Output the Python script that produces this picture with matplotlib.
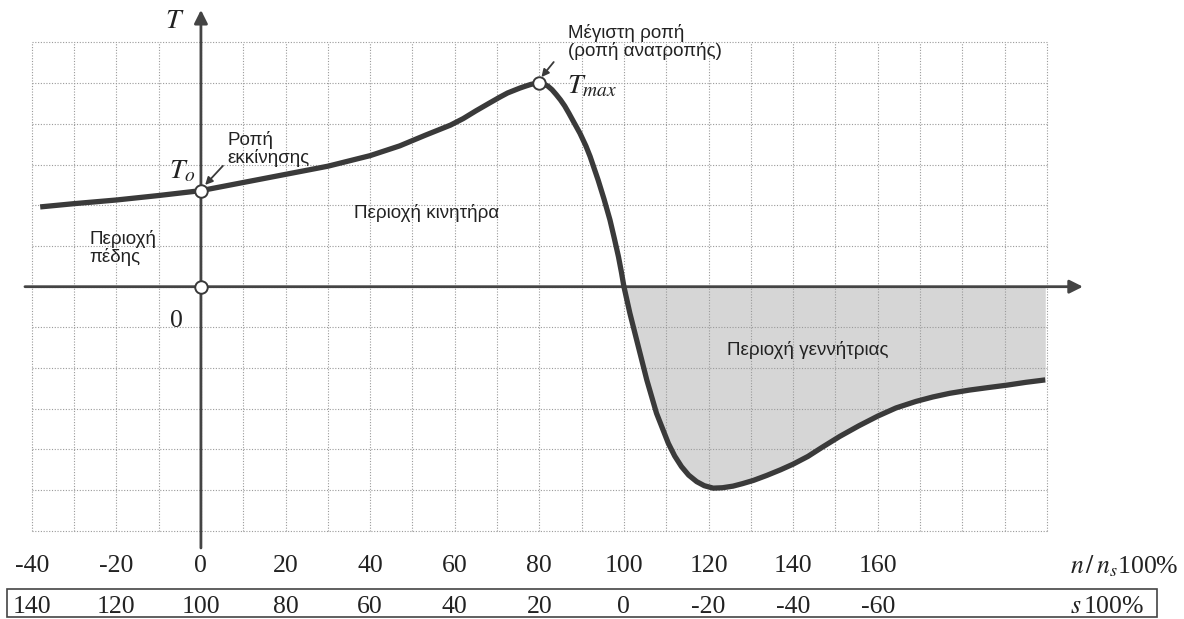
import numpy as np
import matplotlib.pyplot as plt
from matplotlib.patches import Rectangle

plt.rcParams['mathtext.fontset'] = 'stix'

# torque-speed curve (x in n/ns %, T in grid units)
speed = [-38, -30, -20, -10, 0, 10, 20, 30, 40, 47, 53, 59, 62, 65, 68, 70.7, 72.5,
         75.4, 76.8, 78, 79, 80, 81, 82, 83, 84, 85, 86, 87, 88, 89.6, 91, 92, 93.9,
         95.3, 96.7, 97.7, 98.7, 99.4, 100, 101.4, 103.4, 105.4, 107.7, 110.5, 112,
         113.6, 115.3, 117.2, 119, 121.1, 123.3, 125.8, 128, 130.6, 133.7, 137, 140,
         143.5, 146.8, 151, 155.5, 160, 164.3, 169, 173, 177, 181.7, 186, 190.5, 195,
         199.6]
torque = [1.96, 2.04, 2.13, 2.24, 2.36, 2.56, 2.76, 2.96, 3.22, 3.46, 3.72, 3.97, 4.13,
          4.32, 4.5, 4.66, 4.76, 4.88, 4.93, 4.97, 4.99, 5.0, 4.98, 4.93, 4.84, 4.72,
          4.59, 4.44, 4.26, 4.07, 3.77, 3.46, 3.2, 2.62, 2.15, 1.64, 1.2, 0.74, 0.36,
          0.0, -0.65, -1.47, -2.29, -3.11, -3.85, -4.16, -4.42, -4.63, -4.79, -4.89,
          -4.95, -4.94, -4.9, -4.84, -4.76, -4.64, -4.5, -4.36, -4.17, -3.95, -3.68,
          -3.42, -3.18, -2.98, -2.82, -2.71, -2.62, -2.54, -2.48, -2.42, -2.35, -2.29]

n_ticks = [-40, -20, 0, 20, 40, 60, 80, 100, 120, 140, 160]
s_ticks = [140, 120, 100, 80, 60, 40, 20, 0, -20, -40, -60]

# marked points: starting torque, origin, maximum torque
mark_x = [0, 0, 80]
mark_y = [2.36, 0, 5.0]

INK = '#3a3a3a'
GRID = '#9a9a9a'

fig = plt.figure(figsize=(11.84, 6.19), dpi=100)
ax = fig.add_axes([0, 0, 1, 1])
ax.set_xlim(-47.5, 232.4)
ax.set_ylim(-8.165, 7.044)
ax.axis('off')

# dotted grid
for gx in range(-40, 201, 10):
    ax.plot([gx, gx], [-6, 6], color=GRID, lw=0.8, ls=(0, (1, 1.5)), zorder=1)
for gy in range(-6, 7):
    ax.plot([-40, 200], [gy, gy], color=GRID, lw=0.8, ls=(0, (1, 1.5)), zorder=1)

# generator region shading
sp = np.array(speed)
tq = np.array(torque)
gen = sp >= 100
ax.fill_between(sp[gen], tq[gen], 0, color='#d6d6d6', lw=0, zorder=0.5)

# axes with arrows
ax.annotate('', xy=(208.5, 0), xytext=(-41.6, 0),
            arrowprops=dict(arrowstyle='-|>', lw=2, color='#444444', mutation_scale=20,
                            shrinkA=0, shrinkB=0), zorder=3)
ax.annotate('', xy=(0, 6.8), xytext=(0, -6.42),
            arrowprops=dict(arrowstyle='-|>', lw=2, color='#444444', mutation_scale=20,
                            shrinkA=0, shrinkB=0), zorder=3)

# the curve
ax.plot(speed, torque, color=INK, lw=3.8, solid_capstyle='butt',
        solid_joinstyle='round', zorder=4)
ax.plot(mark_x, mark_y, 'o', ms=9, mfc='white', mec=INK, mew=1.4, zorder=5)

# little pointer arrows
arr = dict(arrowstyle='-|>', lw=1.3, color=INK, mutation_scale=11, shrinkA=0, shrinkB=0)
ax.annotate('', xy=(1.0, 2.5), xytext=(5.2, 2.97), arrowprops=arr, zorder=6)
ax.annotate('', xy=(80.5, 5.15), xytext=(83.4, 5.52), arrowprops=arr, zorder=6)

# labels
sans = dict(family=['Liberation Sans', 'DejaVu Sans'], fontsize=13.5, color='#222222')
ax.text(6.3, 3.82, 'Ροπή\nεκκίνησης', va='top', ha='left', linespacing=1.0, **sans)
ax.text(-26.3, 1.4, 'Περιοχή\nπέδης', va='top', ha='left', linespacing=1.0, **sans)
ax.text(36.3, 1.81, 'Περιοχή κινητήρα', va='center', ha='left', **sans)
ax.text(86.8, 6.45, 'Μέγιστη ροπή\n(ροπή ανατροπής)', va='top', ha='left',
        linespacing=1.0, **sans)
ax.text(124.3, -1.56, 'Περιοχή γεννήτριας', va='center', ha='left', **sans)

ax.text(-6.1, 6.55, '$T$', fontsize=20, ha='center', va='center', color='#222222')
ax.text(-4.4, 2.85, '$T_o$', fontsize=20, ha='center', va='center', color='#222222')
ax.text(86.6, 4.95, '$T_{max}$', fontsize=20, ha='left', va='center', color='#222222')

serif = dict(family=['Liberation Serif', 'DejaVu Serif'], fontsize=18.5, color='#222222')
ax.text(-5.9, -0.85, '0', ha='center', va='center', **serif)

for v in n_ticks:
    ax.text(v, -6.86, str(v), ha='center', va='center', **serif)
for v, s in zip(n_ticks, s_ticks):
    ax.text(v, -7.87, str(s), ha='center', va='center', **serif)

ax.text(231, -6.86, r'$n\,/\,n_s$100%', ha='right', va='center', **serif)
ax.text(223, -7.87, r'$s\,$100%', ha='right', va='center', **serif)

ax.add_patch(Rectangle((-45.9, -8.12), 271.9, 0.69, fill=False, ec='#444444', lw=1.2,
                       zorder=3))

fig.savefig('out.png', dpi=100)
